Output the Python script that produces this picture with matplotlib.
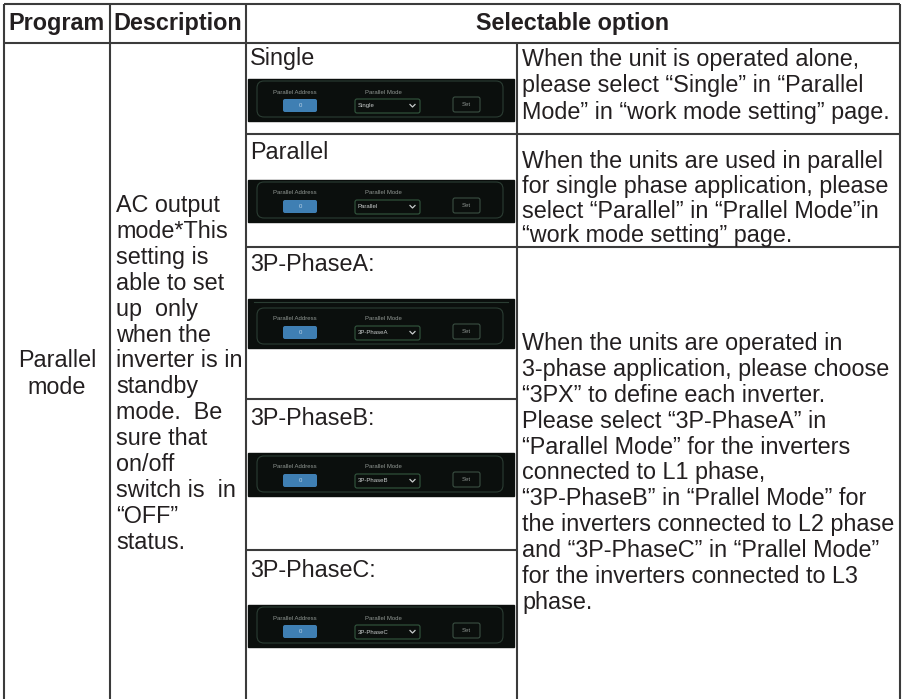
import matplotlib
matplotlib.use('Agg')
import matplotlib.pyplot as plt
from matplotlib.patches import Rectangle, FancyBboxPatch

plt.rcParams['font.family'] = ['Liberation Sans', 'DejaVu Sans']

# table content
headers = ['Program', 'Description', 'Selectable option']
program = ['Parallel', 'mode']
description = ['AC output', 'mode*This', 'setting is', 'able to set', 'up  only',
               'when the', 'inverter is in', 'standby', 'mode.  Be', 'sure that',
               'on/off', 'switch is  in', '\u201cOFF\u201d', 'status.']
options = ['Single', 'Parallel', '3P-PhaseA:', '3P-PhaseB:', '3P-PhaseC:']
mode_values = ['Single', 'Parallel', '3P-PhaseA', '3P-PhaseB', '3P-PhaseC']
notes_single = ['When the unit is operated alone,',
                'please select \u201cSingle\u201d in \u201cParallel',
                'Mode\u201d in \u201cwork mode setting\u201d page.']
notes_parallel = ['When the units are used in parallel',
                  'for single phase application, please',
                  'select \u201cParallel\u201d in \u201cPrallel Mode\u201din',
                  '\u201cwork mode setting\u201d page.']
notes_3p = ['When the units are operated in',
            '3-phase application, please choose',
            '\u201c3PX\u201d to define each inverter.',
            'Please select \u201c3P-PhaseA\u201d in',
            '\u201cParallel Mode\u201d for the inverters',
            'connected to L1 phase,',
            '\u201c3P-PhaseB\u201d in \u201cPrallel Mode\u201d for',
            'the inverters connected to L2 phase',
            'and \u201c3P-PhaseC\u201d in \u201cPrallel Mode\u201d',
            'for the inverters connected to L3',
            'phase.']

# layout (pixels)
W, H = 903, 699
col_x = [4, 110, 246, 517, 900]
top_y, head_y = 4, 43
row_bottoms = [134, 247, 399, 550]
opt_label_y = [58, 152, 264, 418, 570]
shot_top = [79, 180, 299, 453, 605]
shot_bottom = [121, 222, 348, 496, 647]
line_col = '#3b3b3b'
txt_col = '#231f20'
fs = 16.8
step = 25.9

fig = plt.figure(figsize=(W / 100, H / 100), dpi=100)
ax = fig.add_axes([0, 0, 1, 1])
ax.set_xlim(0, W)
ax.set_ylim(H, 0)
ax.axis('off')

# grid lines
lw = 1.5
ax.hlines([top_y, head_y], col_x[0], col_x[-1], color=line_col, lw=lw)
ax.hlines(row_bottoms[:2], col_x[2], col_x[4], color=line_col, lw=lw)
ax.hlines(row_bottoms[2:], col_x[2], col_x[3], color=line_col, lw=lw)
ax.vlines([col_x[0], col_x[1], col_x[2], col_x[4]], top_y, H, color=line_col, lw=lw)
ax.vlines(col_x[3], head_y, H, color=line_col, lw=lw)


def put(x, yc, s, **kw):
    kw.setdefault('ha', 'left')
    ax.text(x, yc + 7, s, va='baseline', fontsize=kw.pop('size', fs),
            color=kw.pop('color', txt_col), **kw)


# header
put((col_x[0] + col_x[1]) / 2, 23, headers[0], ha='center', fontweight='bold')
put((col_x[1] + col_x[2]) / 2, 23, headers[1], ha='center', fontweight='bold')
put((col_x[2] + col_x[4]) / 2, 23, headers[2], ha='center', fontweight='bold')

# program / description
for i, s in enumerate(program):
    put((col_x[0] + col_x[1]) / 2, 360 + 27 * i, s, ha='center')
for i, s in enumerate(description):
    put(116, 205 + step * i, s)

# right column notes
for block, y0, st in [(notes_single, 59, 26.3), (notes_parallel, 161, 24.8),
                      (notes_3p, 343, step)]:
    for i, s in enumerate(block):
        put(522, y0 + st * i, s)


def screenshot(x0, y0, y1, mode):
    x1 = 514
    ax.add_patch(Rectangle((x0, y0), x1 - x0, y1 - y0, color='#0b0f0d', zorder=2))
    b = y1
    if y1 - y0 > 45:
        ax.plot([x0 + 6, x1 - 6], [y0 + 3, y0 + 3], color='#2b3d33', lw=0.8, zorder=3)
    ax.add_patch(FancyBboxPatch((x0 + 9, b - 40), 246, 36,
                                boxstyle='round,pad=0,rounding_size=7',
                                fc='none', ec='#2b3d33', lw=0.8, zorder=3))
    ax.text(x0 + 47, b - 29, 'Parallel Address', fontsize=4.3, color='#8f9692',
            ha='center', va='center', zorder=4)
    ax.text(x0 + 135, b - 29, 'Parallel Mode', fontsize=4.3, color='#8f9692',
            ha='center', va='center', zorder=4)
    ax.add_patch(FancyBboxPatch((x0 + 35, b - 22), 34, 13,
                                boxstyle='round,pad=0,rounding_size=2',
                                fc='#3f7fb3', ec='none', zorder=3))
    ax.text(x0 + 52, b - 15.5, '0', fontsize=4.3, color='#b9d3e8',
            ha='center', va='center', zorder=4)
    ax.add_patch(FancyBboxPatch((x0 + 107, b - 22), 65, 14,
                                boxstyle='round,pad=0,rounding_size=2',
                                fc='none', ec='#33573f', lw=0.8, zorder=3))
    ax.text(x0 + 110, b - 15, mode, fontsize=4.3, color='#c8cccc',
            ha='left', va='center', zorder=4)
    ax.plot([x0 + 162, x0 + 164.5, x0 + 167], [b - 16.5, b - 14, b - 16.5],
            color='#c8cccc', lw=0.9, zorder=4)
    ax.add_patch(FancyBboxPatch((x0 + 205, b - 24), 27, 15,
                                boxstyle='round,pad=0,rounding_size=2',
                                fc='none', ec='#3a4f42', lw=0.8, zorder=3))
    ax.text(x0 + 218.5, b - 16.5, 'Set', fontsize=4.3, color='#8f9692',
            ha='center', va='center', zorder=4)


for i, s in enumerate(options):
    put(250, opt_label_y[i], s)
    screenshot(248, shot_top[i], shot_bottom[i], mode_values[i])

fig.savefig('out.png', dpi=100)
